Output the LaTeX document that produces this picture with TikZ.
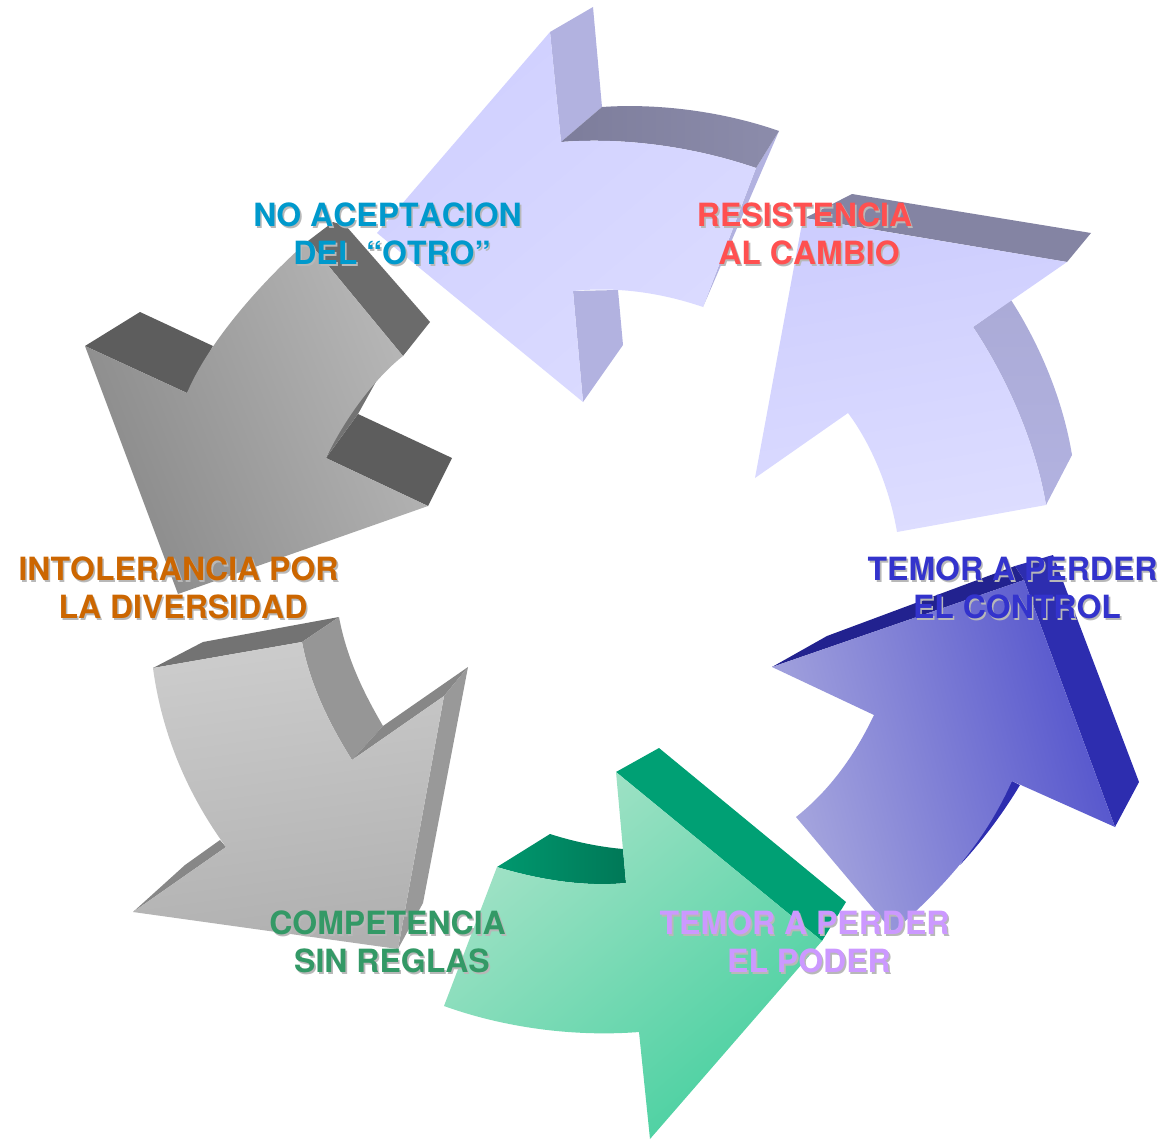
\documentclass[tikz,border=0pt]{standalone}
\usepackage{fontspec}
\setmainfont[Kerning=Off]{TeX Gyre Heros}
\usetikzlibrary{arrows,shapes,positioning}

\definecolor{sidelav}{HTML}{B2B2E0}
\definecolor{bandlav}{HTML}{8484A3}
\definecolor{bandlavdark}{HTML}{7D7D9B}
\definecolor{bandlavpale}{HTML}{8C8CAB}
\definecolor{lavtop}{HTML}{D0D0FF}
\definecolor{lavlow}{HTML}{DBDBFF}
\definecolor{lavhigh}{HTML}{CDCDFE}
\definecolor{lavpale}{HTML}{DDDDFF}
\definecolor{darkgray}{HTML}{5D5D5D}
\definecolor{bandblue}{HTML}{22228F}
\definecolor{sideblue}{HTML}{2D2DAF}
\definecolor{bluepale}{HTML}{A8A8DE}
\definecolor{bluedeep}{HTML}{5252CC}
\definecolor{bandgreen}{HTML}{00A074}
\definecolor{greenpale}{HTML}{A6E3C8}
\definecolor{greendeep}{HTML}{48D0A0}
\definecolor{otrotext}{HTML}{0099CC}
\definecolor{cambiotext}{HTML}{FF5050}
\definecolor{controltext}{HTML}{3333CC}
\definecolor{podertext}{HTML}{CC99FF}
\definecolor{reglastext}{HTML}{339966}
\definecolor{diversidadtext}{HTML}{CC6600}

\begin{document}
\begin{tikzpicture}[x=1pt, y=-1pt]

  \tikzset{
	LabelStyle/.style = {font=\bfseries\fontsize{32}{38}\selectfont, align=center, inner sep=0pt}}
  \useasboundingbox (0,0) rectangle (1162,1140);

  \fill[sidelav] (550,32) -- (593,7) -- (602,107) -- (561,142) -- cycle;
  \fill[sidelav] (573,291) -- (618,290) -- (623,345) -- (583,402) -- cycle;
  \fill[sidelav] (779,131) -- (756,168) -- (703,307) -- cycle;
  \shade[left color=bandlavdark, right color=bandlavpale] (561,142) -- (602,107) .. controls (660,103) and (725,112) .. (779,131) -- (756,168) .. controls (695,147) and (625,137) .. (561,142) -- cycle;
  \path[top color=lavtop, bottom color=lavlow, shading angle=40] (550,32) -- (561,142) .. controls (625,137) and (695,147) .. (756,168) -- (703,307) .. controls (665,294) and (620,286) .. (573,291) -- (583,402) -- (377,233) -- cycle;

  \fill[bandlav] (805,218) -- (852,194) -- (1091,233) -- (1067,262) -- cycle;
  \shade[top color=sidelav!96!black, bottom color=sidelav] (973,327) -- (1011,300) .. controls (1040,345) and (1063,400) .. (1072,455) -- (1046,505) .. controls (1035,440) and (1005,375) .. (973,327) -- cycle;
  \path[top color=lavhigh, bottom color=lavpale, shading angle=10] (803,218) -- (1067,262) -- (973,327) .. controls (1005,375) and (1035,440) .. (1046,505) -- (897,532) .. controls (890,490) and (872,445) .. (848,413) -- (755,478) -- cycle;

  \fill[bandblue] (772,667) -- (827,636) -- (1015,566) -- (1024,580) -- cycle;
  \fill[sideblue] (1024,580) -- (1015,566) -- (1053,555) -- (1139,782) -- (1115,827) -- cycle;
  \fill[sideblue] (1012,781) -- (1020,785) .. controls (1005,810) and (985,838) .. (960,865) -- cycle;
  \path[top color=bluepale, bottom color=bluedeep, shading angle=105] (772,667) -- (1024,580) -- (1115,827) -- (1012,781) .. controls (990,830) and (958,875) .. (893,932) -- (796,817) .. controls (830,790) and (855,755) .. (874,715) -- cycle;

  \fill[bandgreen] (616,772) -- (659,748) -- (846,902) -- (822,941) -- cycle;
  \shade[left color=bandgreen!95!black, right color=bandgreen!75!black] (497,867) -- (550,834) .. controls (575,842) and (600,847) .. (623,849) -- (626,883) .. controls (585,887) and (540,880) .. (497,867) -- cycle;
  \path[top color=greenpale, bottom color=greendeep, shading angle=40] (616,772) -- (822,941) -- (650,1139) -- (639,1032) .. controls (575,1037) and (505,1028) .. (444,1006) -- (497,867) .. controls (540,880) and (585,887) .. (626,883) -- cycle;

  \fill[black!55] (153,668) -- (203,642) -- (339,617) -- (302,642) -- cycle;
  \fill[black!41] (302,642) -- (339,617) .. controls (347,660) and (365,695) .. (383,726) -- (352,760) .. controls (330,725) and (310,685) .. (302,642) -- cycle;
  \fill[black!47] (352,760) -- (383,726) -- (468,667) -- (444,696) -- cycle;
  \fill[black!40] (444,696) -- (468,667) -- (423,903) -- (398,949) -- cycle;
  \fill[black!47] (133,912) -- (185,865) -- (220,840) -- (226,847) -- cycle;
  \path[top color=black!20, bottom color=black!31, shading angle=8] (153,668) -- (302,642) .. controls (310,685) and (330,725) .. (352,760) -- (444,696) -- (398,949) -- (133,912) -- (226,847) .. controls (188,795) and (162,735) .. (153,668) -- cycle;

  \fill[darkgray] (85,346) -- (140,312) -- (213,346) -- (187,393) -- cycle;
  \fill[darkgray] (326,458) -- (358,414) -- (452,458) -- (428,506) -- cycle;
  \fill[black!58] (308,241) -- (333,222) -- (346,226) -- (430,322) -- (403,356) -- cycle;
  \fill[black!55] (326,458) .. controls (338,430) and (355,400) .. (378,378) -- (358,414) -- cycle;
  \path[top color=black!28, bottom color=black!46, shading angle=-68] (85,346) -- (187,393) .. controls (207,345) and (258,285) .. (308,241) -- (403,356) .. controls (375,378) and (345,418) .. (326,458) -- (428,506) -- (178,594) -- cycle;

  \foreach \lname/\lpos/\ltext in {
	otro/{(392,234)}/{NO ACEPTACION~\hbox{}\\DEL “OTRO”},
	cambio/{(809,234)}/{RESISTENCIA~\hbox{}\\AL CAMBIO},
	control/{(1017,588)}/{TEMOR A PERDER~\hbox{}\\EL CONTROL},
	poder/{(809,942)}/{TEMOR A PERDER~\hbox{}\\EL PODER},
	reglas/{(392,942)}/{COMPETENCIA~\hbox{}\\SIN REGLAS},
	diversidad/{(183,588)}/{INTOLERANCIA POR~\hbox{}\\LA DIVERSIDAD}}
  {
	\node[LabelStyle, text=black!28, xshift=1.6pt, yshift=-1.6pt] (\lname shadow) at \lpos {\ltext};
	\node[LabelStyle, text=\lname text] (\lname) at \lpos {\ltext};
  }

\end{tikzpicture}
\end{document}
